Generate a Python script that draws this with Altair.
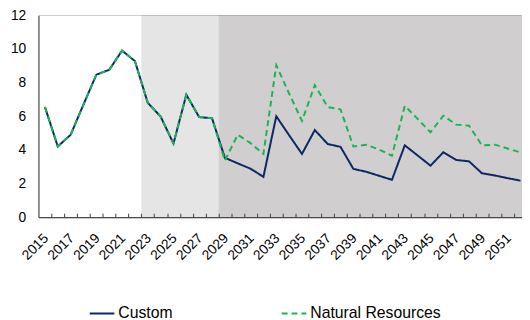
import altair as alt
import pandas as pd

years = list(range(2015, 2053))
custom = [6.55, 4.2, 4.9, 6.7, 8.47, 8.76, 9.9, 9.28, 6.8, 5.98, 4.38, 7.28, 5.95, 5.88,
          3.53, 3.2, 2.88, 2.4, 6.0, 4.87, 3.76, 5.18, 4.35, 4.18, 2.87, 2.7, 2.46, 2.22,
          4.27, 3.67, 3.06, 3.86, 3.4, 3.32, 2.61, 2.48, 2.32, 2.17]
natural = custom[:14] + [3.37, 4.9, 4.4, 3.76, 9.03, 7.35, 5.72, 7.85, 6.55, 6.4, 4.2, 4.3,
                         4.02, 3.65, 6.62, 5.84, 5.05, 6.03, 5.5, 5.44, 4.27, 4.31, 4.08, 3.85]
series_names = ["Custom", "Natural Resources"]
series_colors = ["#0b2865", "#1db354"]

band_start = [2014.5, 2022.5, 2028.5]
band_end = [2022.5, 2028.5, 2052.5]
band_color = ["#ffffff", "#e5e5e5", "#d0cecf"]

y_ticks = [0, 2, 4, 6, 8, 10, 12]
label_years = [y for y in years if y % 2 == 1]
tick_pos = [y + 0.5 for y in years[:-1]]

df = pd.DataFrame({
    "year": years * 2,
    "value": custom + natural,
    "series": [series_names[0]] * len(years) + [series_names[1]] * len(years),
})
bands = pd.DataFrame({"start": band_start, "end": band_end, "color": band_color})

FONT = "Liberation Sans"
x_domain = [2014.5, 2052.12]

rects = alt.Chart(bands).mark_rect(clip=True).encode(
    x=alt.X("start:Q", scale=alt.Scale(domain=x_domain, nice=False, zero=False),
            axis=alt.Axis(values=label_years, format="d", title=None, ticks=False,
                          labelAngle=-45, labelAlign="right", labelBaseline="top",
                          labelPadding=14, labelOffset=-4, labelFontSize=14, labelFont=FONT,
                          labelColor="#000000", domainColor="#404040", grid=False,
                          orient="bottom", labelFlush=False, labelOverlap=False,
                          zindex=1)),
    x2="end:Q",
    color=alt.Color("color:N", scale=None),
)

lines = alt.Chart(df).mark_line(strokeWidth=2).encode(
    x=alt.X("year:Q", scale=alt.Scale(domain=x_domain, nice=False, zero=False),
            axis=alt.Axis(values=tick_pos, labels=False, domain=False, ticks=True,
                          tickSize={"expr": "-4"}, tickColor="#404040", title=None,
                          grid=False, orient="bottom", zindex=1)),
    y=alt.Y("value:Q", scale=alt.Scale(domain=[0, 12], nice=False),
            axis=alt.Axis(values=y_ticks, title=None, ticks=False, labelPadding=13,
                          labelFontSize=14, labelFont=FONT, labelColor="#000000",
                          domainColor="#404040", grid=False, zindex=1)),
    color=alt.Color("series:N", scale=alt.Scale(domain=series_names, range=series_colors),
                    legend=alt.Legend(title=None, orient="none", legendX=51, legendY=289,
                                      direction="horizontal", symbolType="stroke",
                                      symbolSize=625, symbolStrokeWidth=2,
                                      labelFontSize=16, labelFont=FONT, labelColor="#000000",
                                      columnPadding=106, labelOffset=3)),
    strokeDash=alt.StrokeDash("series:N",
                              scale=alt.Scale(domain=series_names, range=[[1, 0], [6, 4]]),
                              legend=None),
)

chart = alt.layer(rects, lines).resolve_scale(x="independent").properties(
    width=491, height=205,
    padding={"left": 31, "top": 5, "right": 0, "bottom": 102},
    autosize=alt.AutoSizeParams(type="none"),
).configure_view(stroke="#595959", strokeWidth=1)

chart.save("out.html", embed_options={"renderer": "svg", "actions": False})
